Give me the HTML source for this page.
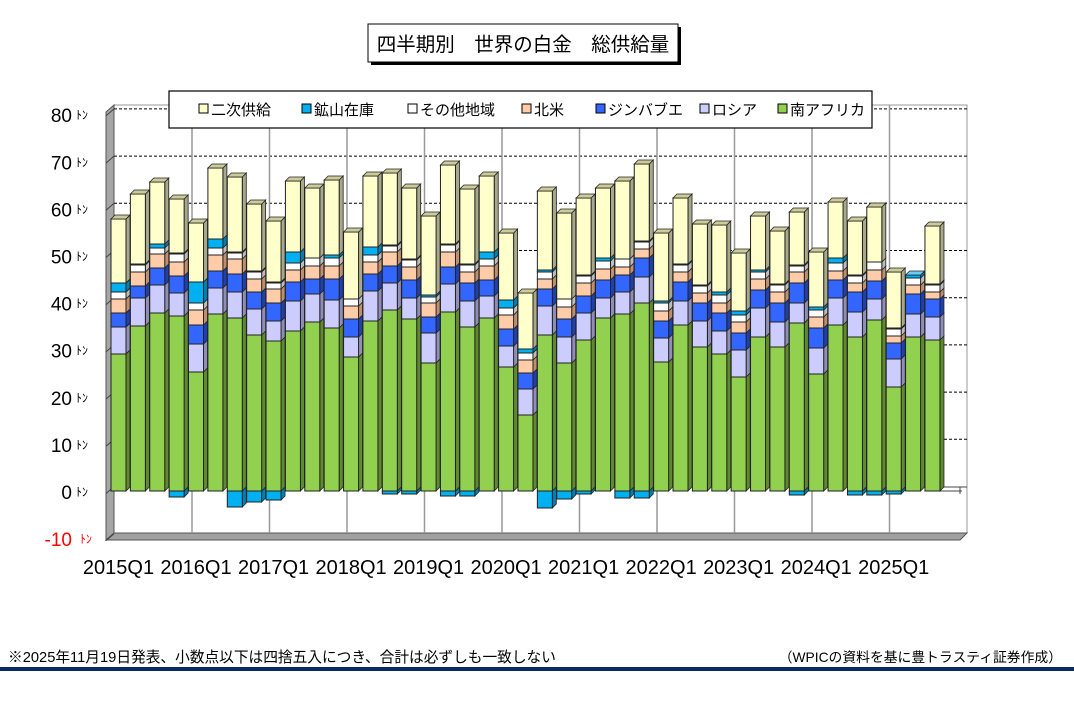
<!DOCTYPE html>
<html><head><meta charset="utf-8">
<style>
body{margin:0;background:#fff;width:1074px;height:707px;overflow:hidden;font-family:"Liberation Sans","Noto Sans CJK JP",sans-serif;}
svg{display:block}
</style></head><body>
<svg id="s" width="1074" height="707" xmlns="http://www.w3.org/2000/svg" font-family="Liberation Sans, Noto Sans CJK JP, sans-serif">
<rect x="371" y="27" width="310" height="38" fill="#000"/>
<rect x="368" y="24" width="310" height="38" fill="#fff" stroke="#000" stroke-width="1"/>
<text x="523" y="51" font-size="19.5" text-anchor="middle">四半期別　世界の白金　総供給量</text>
<rect x="114" y="105" width="853" height="428" fill="#fff" stroke="#999" stroke-width="1"/>
<polygon points="106,112 114,105 114,533 106,540" fill="#a6a6a6" stroke="#555" stroke-width="1"/>
<polygon points="106,540 114,533 967,533 960,540" fill="#a0a0a0" stroke="#555" stroke-width="1"/>
<g id="grid"></g>
<g id="bars"></g>
<rect x="169" y="91" width="703" height="37" fill="#fff" stroke="#000" stroke-width="1.2"/>
<g font-size="15" fill="#000">
<rect x="199" y="104" width="9" height="9" fill="#FFFFCC" stroke="#000"/><text x="211" y="115">二次供給</text>
<rect x="302" y="104" width="9" height="9" fill="#00B0F0" stroke="#000"/><text x="314" y="115">鉱山在庫</text>
<rect x="408" y="104" width="9" height="9" fill="#fff" stroke="#000"/><text x="420" y="115">その他地域</text>
<rect x="522" y="104" width="9" height="9" fill="#FFCCAA" stroke="#000"/><text x="534" y="115">北米</text>
<rect x="596" y="104" width="9" height="9" fill="#3366FF" stroke="#000"/><text x="608" y="115">ジンバブエ</text>
<rect x="700" y="104" width="9" height="9" fill="#CCCCFF" stroke="#000"/><text x="712" y="115">ロシア</text>
<rect x="778" y="104" width="9" height="9" fill="#92D050" stroke="#000"/><text x="790" y="115">南アフリカ</text>
</g>
<g id="ylab" font-size="19"></g>
<g id="xlab" font-size="20"></g>
<text x="8" y="662" font-size="14.7">※2025年11月19日発表、小数点以下は四捨五入につき、合計は必ずしも一致しない</text>
<text x="1062" y="662" font-size="13.8" text-anchor="end">（WPICの資料を基に豊トラスティ証券作成）</text>
<rect x="0" y="667" width="1074" height="4" fill="#0b2a63"/>
</svg>
<script>
var NS="http://www.w3.org/2000/svg";
function el(p,t,a,txt){var e=document.createElementNS(NS,t);for(var k in a)e.setAttribute(k,a[k]);if(txt!==undefined)e.textContent=txt;p.appendChild(e);return e;}
var grid=document.getElementById('grid');
for(var v=-10;v<=80;v+=10){var y=486.5-v*4.72;
 if(v>-10&&v!==0) el(grid,'line',{x1:114,y1:y,x2:967,y2:y,stroke:'#000','stroke-dasharray':'3,2','stroke-width':1});
 el(grid,'line',{x1:106,y1:y+7,x2:114,y2:y,stroke:'#444','stroke-width':1});}
for(var k=0;k<10;k++){var x=192+77.5*k;el(grid,'line',{x1:x,y1:105,x2:x,y2:533,stroke:'#999','stroke-width':1.5});}
el(grid,'line',{x1:114,y1:487,x2:967,y2:487,stroke:'#444','stroke-width':1});
el(grid,'line',{x1:940,y1:491,x2:962,y2:491,stroke:'#444','stroke-width':1});
el(grid,'line',{x1:960,y1:487,x2:960,y2:494,stroke:'#444','stroke-width':1});
var D=[
[354,327,313,299,292,283,219],[326,298,286,272,265,264,194],[313,285,268,254,248,244,182],[316,293,276,262,254,253,199],
[372,344,325,310,303,282,223],[314,288,271,255,248,239,168],[318,292,274,259,253,252,177],[335,309,292,279,272,271,204],
[341,321,303,289,283,282,221],[331,301,282,270,263,252,181],[322,294,279,266,258,258,188],[328,300,279,266,258,255,180],
[357,337,319,306,299,299,232],[321,291,274,262,255,247,176],[310,283,266,252,246,245,173],[319,298,280,267,260,259,188],
[363,333,317,303,297,295,216],[312,284,267,252,245,244,165],[327,301,283,272,265,264,189],[318,296,280,266,259,252,176],
[367,346,329,315,308,300,233],[415,389,373,360,353,349,293],[335,306,289,279,272,270,191],[363,337,319,307,299,299,213],
[340,313,296,283,276,275,198],[318,298,280,269,261,258,188],[314,292,275,267,259,259,181],[303,277,258,249,242,241,164],
[362,338,321,311,303,301,233],[325,301,282,272,265,264,198],[347,321,303,293,286,285,224],[354,331,313,303,295,292,225],
[377,350,333,322,315,311,253],[337,308,290,279,272,270,216],[347,322,303,292,285,284,231],[323,303,283,272,266,265,212],
[374,348,328,317,310,307,252],[325,298,280,271,263,258,202],[337,312,292,283,276,275,221],[320,299,281,270,262,262,207],
[387,359,343,336,329,328,272],[337,314,294,285,278,275,275],[340,317,299,292,285,284,226]];
var NEG={3:497,6:507,7:502,8:500,14:494,15:494,17:496,18:496,22:508,23:499,24:494,26:498,27:498,35:495,38:495,39:495,40:494};
var F=['#92D050','#CCCCFF','#3366FF','#FFCCAA','#FFFFFF','#00B0F0','#FFFFCC'];
var S=['#5f8a2e','#8e8eb8','#1f40b0','#c0906e','#bdbdbd','#0080b0','#a8a88a'];
var T=['#b8e088','#e0e0ff','#6688ff','#ffe0cc','#eeeeee','#66d0f8','#cccc99'];
var bars=document.getElementById('bars');
var W=15,dx=4,dy=4,Z=491;
function seg(x,yb,yt,i){
 if(yb-yt<0.3)return;
 el(bars,'polygon',{points:[x+W,yb,x+W+dx,yb-dy,x+W+dx,yt-dy,x+W,yt].join(' '),fill:S[i],stroke:'#222','stroke-width':0.8});
 el(bars,'rect',{x:x,y:yt,width:W,height:yb-yt,fill:F[i],stroke:'#222','stroke-width':1});
}
D.forEach(function(b,n){
 var x=111+n*19.38;
 if(NEG[n]){var yb=NEG[n];
  el(bars,'polygon',{points:[x+W,yb,x+W+dx,yb-dy,x+W+dx,Z-dy,x+W,Z].join(' '),fill:S[5],stroke:'#222','stroke-width':0.8});
  el(bars,'rect',{x:x,y:Z,width:W,height:yb-Z,fill:F[5],stroke:'#222','stroke-width':1});}
 var prev=Z,top=Z,ti=0;
 for(var i=0;i<7;i++){seg(x,prev,b[i],i);if(prev-b[i]>=0.3){top=b[i];ti=i;}prev=b[i];}
 el(bars,'polygon',{points:[x,top,x+dx,top-dy,x+W+dx,top-dy,x+W,top].join(' '),fill:T[ti],stroke:'#222','stroke-width':0.8});
});
var yl=document.getElementById('ylab');
for(var v=-10;v<=80;v+=10){var y=491-v*4.71+8;var red=v<0;
 el(yl,'text',{x:72,y:y,'text-anchor':'end',fill:red?'#ff0000':'#000'},String(v));
 el(yl,'text',{x:red?80:76,y:y-3,'font-size':12,fill:red?'#ff0000':'#000'},'ﾄﾝ');}
var xl=document.getElementById('xlab');
for(var k=0;k<11;k++){el(xl,'text',{x:118.5+77.52*k,y:574,'text-anchor':'middle'},(2015+k)+'Q1');}
</script>
</body></html>
